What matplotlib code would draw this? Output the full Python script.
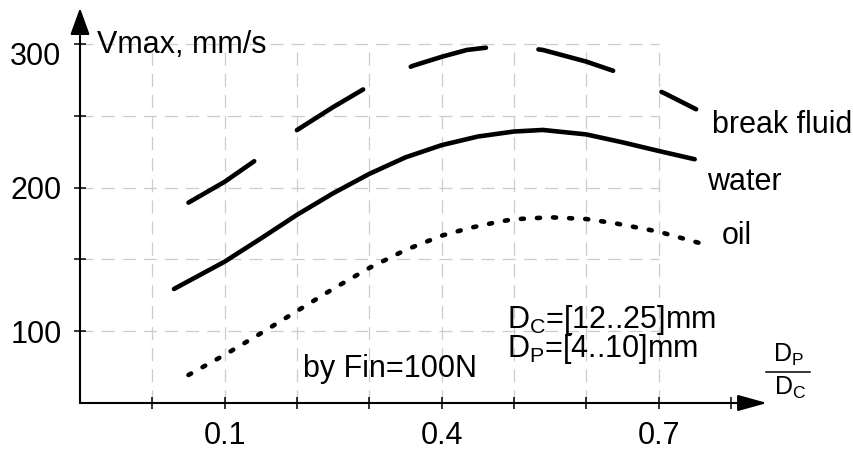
import matplotlib
matplotlib.use("Agg")
import matplotlib.pyplot as plt
from matplotlib.transforms import ScaledTranslation

# ---- data ----
brake_x = [0.05, 0.10, 0.148, 0.20, 0.25, 0.30, 0.36, 0.40, 0.435, 0.474, 0.50, 0.54, 0.60, 0.65, 0.71, 0.752]
brake_y = [189.5, 204, 220.8, 240, 256, 270.8, 284.7, 291, 295.8, 298.1, 298.3, 295.8, 287.7, 279.1, 265.2, 254.5]

water_x = [0.03, 0.10, 0.15, 0.20, 0.25, 0.30, 0.35, 0.40, 0.45, 0.50, 0.54, 0.60, 0.65, 0.70, 0.75]
water_y = [129.4, 148.4, 164.5, 181, 196, 209.5, 221, 229.5, 235.5, 239, 240.1, 237, 231.5, 225.5, 219.7]

oil_x = [0.05, 0.10, 0.15, 0.20, 0.25, 0.30, 0.35, 0.40, 0.44, 0.48, 0.50, 0.55, 0.60, 0.64, 0.70, 0.77]
oil_y = [69.5, 83.5, 98.5, 114, 129.5, 144, 156.5, 166.5, 172, 176.3, 177.9, 179.3, 178.1, 175.1, 169.3, 159.5]

x_ticks = [0.0, 0.1, 0.2, 0.3, 0.4, 0.5, 0.6, 0.7, 0.8]
x_labels = ["", "0.1", "", "", "0.4", "", "", "0.7", ""]
y_ticks = [100, 150, 200, 250, 300]
y_labels = ["100", "", "200", "", "300"]
grid_x = [0.0, 0.1, 0.2, 0.3, 0.4, 0.5, 0.6, 0.7]
grid_y = [100, 150, 200, 250, 300]

plt.rcParams.update({
    "font.family": ["Liberation Sans", "DejaVu Sans"],
    "font.size": 22,
    "mathtext.fontset": "custom",
    "mathtext.rm": "Liberation Sans",
    "mathtext.it": "Liberation Sans",
    "mathtext.default": "rm",
    "lines.scale_dashes": False,
})

fig = plt.figure(figsize=(8.54, 4.54), dpi=100)
ax = fig.add_axes([80 / 854, 51 / 454, 687 / 854, 395 / 454])
ax.set_xlim(-0.1, 0.85)
ax.set_ylim(50, 325)
for s in ax.spines.values():
    s.set_visible(False)

# grid (stops at x=0.7 / y=300)
grid_kw = dict(color="#cccccc", lw=0.9, linestyles=[(0, (9.4, 5.8))], zorder=0)
ax.vlines(grid_x, 50, 300, **grid_kw)
ax.hlines(grid_y, -0.1, 0.7, **grid_kw)

# axes with arrow heads
ax.annotate("", xy=(1, 0), xytext=(0, 0), xycoords="axes fraction",
            arrowprops=dict(arrowstyle="-|>,head_length=1.8,head_width=0.5",
                            lw=1.5, color="k", shrinkA=0, shrinkB=0,
                            mutation_scale=10), annotation_clip=False)
ax.annotate("", xy=(0, 1), xytext=(0, 0), xycoords="axes fraction",
            arrowprops=dict(arrowstyle="-|>,head_length=1.65,head_width=0.6",
                            lw=1.5, color="k", shrinkA=0, shrinkB=0,
                            mutation_scale=10), annotation_clip=False)

ax.set_xticks(x_ticks)
ax.set_xticklabels(x_labels)
ax.set_yticks(y_ticks)
ax.set_yticklabels(y_labels)
ax.tick_params(direction="inout", length=8.6, width=1.1, pad=9, labelsize=22)

# "300" sits a bit below its tick in the reference
lab300 = ax.get_yticklabels()[4]
lab300.set_transform(lab300.get_transform() + ScaledTranslation(0, -10 / 100, fig.dpi_scale_trans))

# curves
ax.plot(brake_x, brake_y, color="k", lw=3.3, dashes=(56, 38),
        dash_capstyle="round", solid_capstyle="round")
ax.plot(water_x, water_y, color="k", lw=3.3, solid_capstyle="round",
        solid_joinstyle="round")
ax.plot(oil_x, oil_y, color="k", lw=3.3, dashes=(2.2, 9.4),
        dash_capstyle="round")

# annotations
ax.text(-0.0765, 293.7, "Vmax, mm/s", va="baseline", ha="left")
ax.text(0.774, 238, "break fluid", va="baseline", ha="left")
ax.text(0.767, 198.3, "water", va="baseline", ha="left")
ax.text(0.788, 160.7, "oil", va="baseline", ha="left")
ax.text(0.208, 68.1, "by Fin=100N", va="baseline", ha="left")
ax.text(0.490, 102.2, r"D$_\mathrm{C}$=[12..25]mm", va="baseline", ha="left")
ax.text(0.490, 82.0, r"D$_\mathrm{P}$=[4..10]mm", va="baseline", ha="left")

# axis label as a stacked fraction D_P / D_C
ax.text(0.880, 78.6, r"D$_\mathrm{P}$", va="baseline", ha="center",
        fontsize=18, clip_on=False)
ax.text(0.882, 55.6, r"D$_\mathrm{C}$", va="baseline", ha="center",
        fontsize=18, clip_on=False)
ax.plot([0.848, 0.909], [71.6, 71.6], color="k", lw=1.1, clip_on=False)

fig.savefig("out.png", dpi=100)
